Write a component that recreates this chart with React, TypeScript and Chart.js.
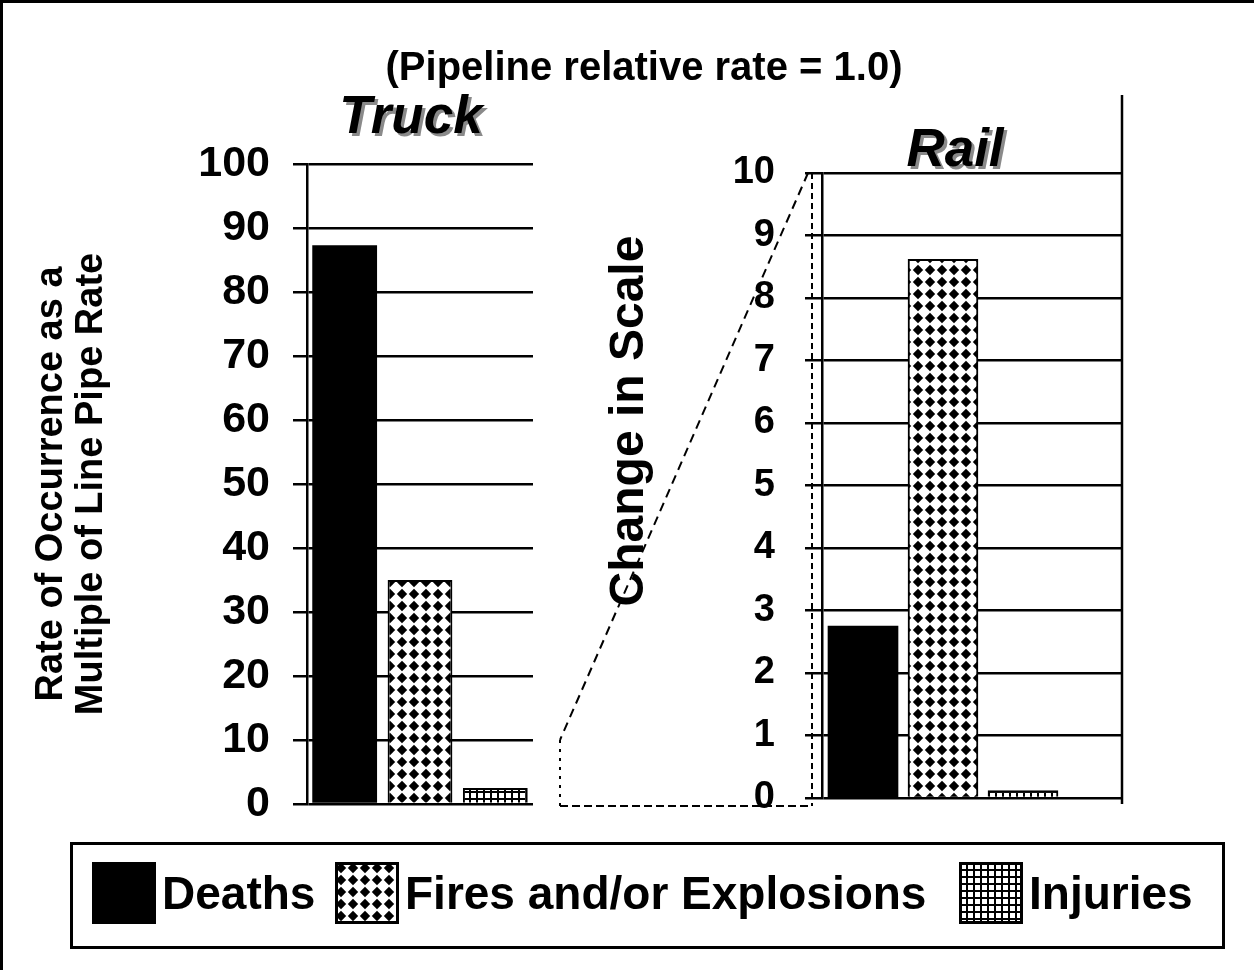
import React, { useEffect, useRef } from 'react';
import { Chart, registerables } from 'chart.js';

Chart.register(...registerables);

// ---------- data ----------
const categories = ['Deaths', 'Fires and/or Explosions', 'Injuries'];
const truckValues = [87.3, 35, 2.5];
const railValues = [2.75, 8.62, 0.12];
const railSlots = [1, 2, 3];
const truckTickStep = 10;
const truckMax = 100;
const railTickStep = 1;
const railMax = 10;
const titleText = '(Pipeline relative rate = 1.0)';
const truckLabel = 'Truck';
const railLabel = 'Rail';
const yTitleLines = ['Rate of Occurrence as a', 'Multiple of Line Pipe Rate'];
const scaleNote = 'Change in Scale';

const FONT = "'Liberation Sans', Arial, Helvetica, sans-serif";
const RAIL_CANVAS_LEFT = 540;

function diamondTile(): HTMLCanvasElement {
  const c = document.createElement('canvas');
  c.width = 12;
  c.height = 12;
  const g = c.getContext('2d')!;
  g.fillStyle = '#fff';
  g.fillRect(0, 0, 12, 12);
  g.fillStyle = '#000';
  g.beginPath();
  g.moveTo(6, 0.8);
  g.lineTo(11.2, 6);
  g.lineTo(6, 11.2);
  g.lineTo(0.8, 6);
  g.closePath();
  g.fill();
  return c;
}

function gridTile(): HTMLCanvasElement {
  const c = document.createElement('canvas');
  c.width = 7;
  c.height = 7;
  const g = c.getContext('2d')!;
  g.fillStyle = '#000';
  g.fillRect(0, 0, 7, 7);
  g.fillStyle = '#fff';
  g.fillRect(2, 2, 5, 5);
  return c;
}

function fillsFor(ctx: CanvasRenderingContext2D): (string | CanvasPattern)[] {
  return [
    '#000',
    ctx.createPattern(diamondTile(), 'repeat') as CanvasPattern,
    ctx.createPattern(gridTile(), 'repeat') as CanvasPattern,
  ];
}

const Swatch: React.FC<{ idx: number }> = ({ idx }) => {
  const ref = useRef<HTMLCanvasElement>(null);
  useEffect(() => {
    const c = ref.current;
    if (!c) return;
    const ctx = c.getContext('2d')!;
    const f = fillsFor(ctx)[idx];
    ctx.fillStyle = f as any;
    ctx.fillRect(0, 0, c.width, c.height);
    if (idx > 0) {
      ctx.strokeStyle = '#000';
      ctx.lineWidth = 3;
      ctx.strokeRect(1.5, 1.5, c.width - 3, c.height - 3);
    }
  }, [idx]);
  return <canvas ref={ref} width={64} height={62} style={{ display: 'block', width: 64, height: 62 }} />;
};

export default function App() {
  const truckRef = useRef<HTMLCanvasElement>(null);
  const railRef = useRef<HTMLCanvasElement>(null);

  useEffect(() => {
    const tc = truckRef.current!;
    const rc = railRef.current!;
    const tctx = tc.getContext('2d')!;
    const rctx = rc.getContext('2d')!;

    const tickFont = (size: number) => ({ family: FONT, size, weight: 'bold' as const });

    const truck = new Chart(tctx, {
      type: 'bar',
      data: {
        labels: categories,
        datasets: [
          {
            data: truckValues,
            backgroundColor: fillsFor(tctx) as any,
            borderColor: '#000',
            borderWidth: [0, 2, 2],
            barPercentage: 0.86,
            categoryPercentage: 1,
          },
        ],
      },
      options: {
        animation: false,
        responsive: false,
        maintainAspectRatio: false,
        layout: { padding: { left: 0, top: 164, right: 27, bottom: 166 } },
        plugins: { legend: { display: false }, tooltip: { enabled: false }, title: { display: false } },
        scales: {
          x: { display: false },
          y: {
            min: 0,
            max: truckMax,
            ticks: { stepSize: truckTickStep, padding: 23, color: '#000', font: tickFont(43) },
            grid: { color: '#000', lineWidth: 2.5, tickLength: 14, drawTicks: true },
            border: { display: true, color: '#000', width: 2.5 },
            title: {
              display: true,
              text: yTitleLines,
              color: '#000',
              font: { family: FONT, size: 38, weight: 'bold', lineHeight: 1.05 },
              padding: { top: 32, bottom: 0 },
            },
            afterFit: (s: any) => {
              s.width = 307;
            },
          },
        },
      },
    });

    const connector = {
      id: 'scaleConnector',
      afterDraw(chart: any) {
        const ctx = chart.ctx as CanvasRenderingContext2D;
        const a = chart.chartArea;
        const ry = chart.scales.y;
        const ty = truck.scales.y;
        const xLeft = 560 - RAIL_CANVAS_LEFT;
        ctx.save();
        ctx.strokeStyle = '#000';
        ctx.lineWidth = 2;
        // dashed vertical next to the rail axis
        ctx.setLineDash([6, 4]);
        ctx.beginPath();
        ctx.moveTo(a.left - 10, ry.getPixelForValue(railMax));
        ctx.lineTo(a.left - 10, ry.getPixelForValue(0) + 8);
        ctx.stroke();
        // connector from rail's 10 down to truck's 0..10 band
        ctx.setLineDash([9, 6]);
        ctx.beginPath();
        ctx.moveTo(a.left - 14, ry.getPixelForValue(railMax));
        ctx.lineTo(xLeft, ty.getPixelForValue(10));
        ctx.stroke();
        ctx.setLineDash([3, 6]);
        ctx.beginPath();
        ctx.moveTo(xLeft, ty.getPixelForValue(10));
        ctx.lineTo(xLeft, ty.getPixelForValue(0) + 2);
        ctx.stroke();
        ctx.setLineDash([8, 4]);
        ctx.beginPath();
        ctx.moveTo(xLeft, ty.getPixelForValue(0) + 2);
        ctx.lineTo(a.left - 12, ty.getPixelForValue(0) + 2);
        ctx.stroke();
        // solid right frame line
        ctx.setLineDash([]);
        ctx.lineWidth = 2.5;
        ctx.beginPath();
        ctx.moveTo(a.right, 95);
        ctx.lineTo(a.right, a.bottom + 6);
        ctx.stroke();
        ctx.restore();
      },
    };

    const rail = new Chart(rctx, {
      type: 'bar',
      data: {
        datasets: [
          {
            data: railValues.map((v, i) => ({ x: railSlots[i], y: v })),
            backgroundColor: fillsFor(rctx) as any,
            borderColor: '#000',
            borderWidth: [0, 2, 2],
            barThickness: 70,
          },
        ],
      },
      options: {
        animation: false,
        responsive: false,
        maintainAspectRatio: false,
        layout: { padding: { left: 0, top: 173, right: 132, bottom: 172 } },
        plugins: { legend: { display: false }, tooltip: { enabled: false }, title: { display: false } },
        scales: {
          x: { type: 'linear', display: false, offset: false, min: 0.4875, max: 4.2375 },
          y: {
            min: 0,
            max: railMax,
            ticks: { stepSize: railTickStep, padding: 30, color: '#000', font: tickFont(38) },
            grid: { color: '#000', lineWidth: 2.5, tickLength: 17, drawTicks: true },
            border: { display: true, color: '#000', width: 2.5 },
            afterFit: (s: any) => {
              s.width = 282;
            },
          },
        },
      },
      plugins: [connector],
    });

    return () => {
      rail.destroy();
      truck.destroy();
    };
  }, []);

  const abs: React.CSSProperties = { position: 'absolute', fontFamily: FONT, fontWeight: 'bold', color: '#000', lineHeight: 1, whiteSpace: 'nowrap' };

  return (
    <div
      style={{
        position: 'absolute',
        left: 0,
        top: 0,
        width: 1254,
        height: 970,
        background: '#fff',
        overflow: 'hidden',
        borderTop: '3px solid #000',
        borderLeft: '3px solid #000',
        boxSizing: 'border-box',
        fontFamily: FONT,
      }}
    >
      <canvas ref={truckRef} width={560} height={970} style={{ position: 'absolute', left: -3, top: -3, width: 560, height: 970 }} />
      <canvas
        ref={railRef}
        width={714}
        height={970}
        style={{ position: 'absolute', left: RAIL_CANVAS_LEFT - 3, top: -3, width: 714, height: 970 }}
      />

      <div style={{ ...abs, left: 644 - 400 - 3, top: 46 - 3, width: 800, textAlign: 'center', fontSize: 40 }}>{titleText}</div>
      <div
        style={{
          ...abs,
          left: 411 - 150 - 3,
          top: 88 - 3,
          width: 300,
          textAlign: 'center',
          fontSize: 53,
          fontStyle: 'italic',
          textShadow: '3px 3px 0 #8a8a8a',
        }}
      >
        {truckLabel}
      </div>
      <div
        style={{
          ...abs,
          left: 955 - 150 - 3,
          top: 121 - 3,
          width: 300,
          textAlign: 'center',
          fontSize: 53,
          fontStyle: 'italic',
          textShadow: '3px 3px 0 #8a8a8a',
        }}
      >
        {railLabel}
      </div>
      <div
        style={{
          ...abs,
          left: 627 - 250 - 3,
          top: 421 - 24 - 3,
          width: 500,
          height: 48,
          textAlign: 'center',
          fontSize: 48,
          transform: 'rotate(-90deg)',
          transformOrigin: '50% 50%',
        }}
      >
        {scaleNote}
      </div>

      <div
        style={{
          position: 'absolute',
          left: 70 - 3,
          top: 842 - 3,
          width: 1155,
          height: 107,
          border: '3px solid #000',
          boxSizing: 'border-box',
        }}
      >
        {categories.map((c, i) => (
          <div
            key={c}
            style={{
              position: 'absolute',
              left: [19, 262, 886][i],
              top: 17,
              display: 'flex',
              alignItems: 'center',
              fontFamily: FONT,
              fontWeight: 'bold',
              fontSize: 46,
              lineHeight: 1,
              whiteSpace: 'nowrap',
              color: '#000',
            }}
          >
            <Swatch idx={i} />
            <span style={{ marginLeft: 6 }}>{c}</span>
          </div>
        ))}
      </div>
    </div>
  );
}
